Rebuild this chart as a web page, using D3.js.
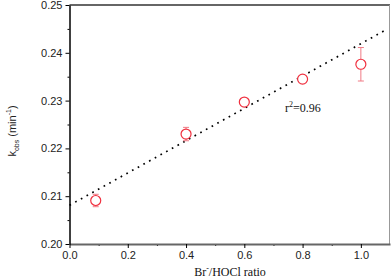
<!DOCTYPE html>
<html>
<head>
<meta charset="utf-8">
<script src="https://cdn.jsdelivr.net/npm/d3@7"></script>
<style>
  body { margin: 0; background: #fff; }
  svg { display: block; }
</style>
</head>
<body>
<div class="chart"></div>
<script>
const ratios = [0.09, 0.4, 0.6, 0.8, 1.0];
const kobs = [0.2091, 0.2230, 0.2297, 0.2345, 0.2376];
const kerr = [0.0013, 0.0014, 0.0005, 0.0005, 0.0035];
const fitLine = { intercept: 0.2081, slope: 0.0338, xEnd: 1.09 };
const xTicks = [0.0, 0.2, 0.4, 0.6, 0.8, 1.0];
const yTicks = [0.20, 0.21, 0.22, 0.23, 0.24, 0.25];

const width = 392, height = 280;
const margin = { top: 5, right: 2, bottom: 36, left: 69.5 };

const svg = d3.select('.chart')
    .append('svg')
    .attr('width', width)
    .attr('height', height);

const x = d3.scaleLinear().domain([0, 1.1]).range([margin.left, width - margin.right]);
const y = d3.scaleLinear().domain([0.20, 0.25]).range([height - margin.bottom, margin.top]);

// frame: top and right in gray
svg.append('line')
    .attr('x1', x(0)).attr('x2', x(1.1))
    .attr('y1', y(0.25)).attr('y2', y(0.25))
    .attr('stroke', '#666').attr('stroke-width', 2);
svg.append('line')
    .attr('x1', x(1.1) - 0.5).attr('x2', x(1.1) - 0.5)
    .attr('y1', y(0.25)).attr('y2', y(0.20))
    .attr('stroke', '#999').attr('stroke-width', 1);

// minor ticks
const xMinor = d3.range(0.1, 1.1, 0.2);
svg.append('g')
    .attr('transform', `translate(0,${y(0.20)})`)
    .call(d3.axisBottom(x).tickValues(xMinor).tickSize(2).tickFormat(''))
    .call(g => g.select('.domain').remove());
const yMinor = d3.range(0.205, 0.25, 0.01);
svg.append('g')
    .attr('transform', `translate(${x(0)},0)`)
    .call(d3.axisLeft(y).tickValues(yMinor).tickSize(2).tickFormat(''))
    .call(g => g.select('.domain').remove());

// major axes
const xAxis = svg.append('g')
    .attr('transform', `translate(0,${y(0.20)})`)
    .call(d3.axisBottom(x).tickValues(xTicks).tickSize(4).tickSizeOuter(0).tickPadding(3).tickFormat(d3.format('.1f')));
xAxis.select('.domain').attr('stroke', '#666').attr('stroke-width', 2);
xAxis.selectAll('text').attr('font-family', 'Liberation Sans, Arial, sans-serif').attr('font-size', 11).attr('fill', '#222');

const yAxis = svg.append('g')
    .attr('transform', `translate(${x(0)},0)`)
    .call(d3.axisLeft(y).tickValues(yTicks).tickSize(4).tickSizeOuter(0).tickPadding(3).tickFormat(d3.format('.2f')));
yAxis.select('.domain').attr('stroke', '#000').attr('stroke-width', 1.5);
yAxis.selectAll('text').attr('font-family', 'Liberation Sans, Arial, sans-serif').attr('font-size', 11).attr('fill', '#222');

// fitted line
svg.append('line')
    .attr('x1', x(0)).attr('y1', y(fitLine.intercept))
    .attr('x2', x(fitLine.xEnd)).attr('y2', y(fitLine.intercept + fitLine.slope * fitLine.xEnd))
    .attr('stroke', '#000')
    .attr('stroke-width', 1.7)
    .attr('stroke-dasharray', '1.7,4.8');

const pts = ratios.map((r, i) => ({ r, k: kobs[i], e: kerr[i] }));

// error bars
const eb = svg.append('g').attr('stroke', '#f07a85').attr('stroke-width', 1);
eb.selectAll('line.v').data(pts).enter().append('line')
    .attr('x1', d => x(d.r)).attr('x2', d => x(d.r))
    .attr('y1', d => y(d.k + d.e)).attr('y2', d => y(d.k - d.e));
eb.selectAll('line.top').data(pts).enter().append('line')
    .attr('x1', d => x(d.r) - 3).attr('x2', d => x(d.r) + 3)
    .attr('y1', d => y(d.k + d.e)).attr('y2', d => y(d.k + d.e));
eb.selectAll('line.bot').data(pts).enter().append('line')
    .attr('x1', d => x(d.r) - 3).attr('x2', d => x(d.r) + 3)
    .attr('y1', d => y(d.k - d.e)).attr('y2', d => y(d.k - d.e));

// markers
svg.selectAll('circle.pt').data(pts).enter().append('circle')
    .attr('class', 'pt')
    .attr('cx', d => x(d.r)).attr('cy', d => y(d.k))
    .attr('r', 5)
    .attr('fill', '#fff')
    .attr('stroke', '#f0303f')
    .attr('stroke-width', 1.2);

// r² annotation
const r2 = svg.append('text')
    .attr('x', 285).attr('y', 112)
    .attr('font-family', 'Liberation Serif, Times New Roman, serif')
    .attr('font-size', 12).attr('fill', '#111');
r2.append('tspan').text('r');
r2.append('tspan').attr('dy', -5).attr('font-size', 8).text('2');
r2.append('tspan').attr('dy', 5).text('=0.96');

// x label
const xl = svg.append('text')
    .attr('x', 230).attr('y', 276)
    .attr('text-anchor', 'middle')
    .attr('font-family', 'Liberation Serif, Times New Roman, serif')
    .attr('font-size', 12).attr('fill', '#111');
xl.append('tspan').text('Br');
xl.append('tspan').attr('dy', -5).attr('font-size', 8).text('-');
xl.append('tspan').attr('dy', 5).text('/HOCl ratio');

// y label
const yl = svg.append('text')
    .attr('transform', 'translate(16,131) rotate(-90)')
    .attr('text-anchor', 'middle')
    .attr('font-family', 'Liberation Sans, Arial, sans-serif')
    .attr('font-size', 11).attr('fill', '#222');
yl.append('tspan').text('k');
yl.append('tspan').attr('dy', 3).attr('font-size', 7).text('obs');
yl.append('tspan').attr('dy', -3).text(' (min');
yl.append('tspan').attr('dy', -5).attr('font-size', 7).text('-1');
yl.append('tspan').attr('dy', 5).text(')');
</script>
</body>
</html>
